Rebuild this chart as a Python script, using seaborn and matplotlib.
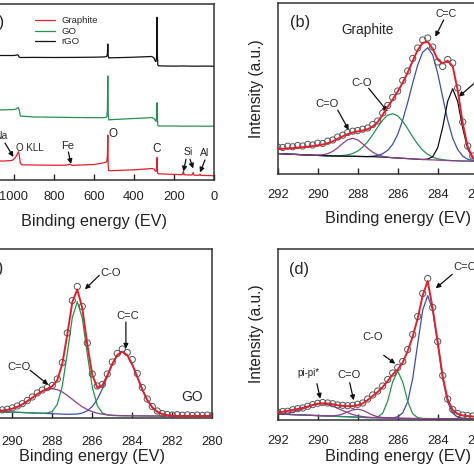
import numpy as np
import matplotlib
matplotlib.use("Agg")
import matplotlib.pyplot as plt
import seaborn as sns

# ---- survey spectra (panel a), intensity in arbitrary offset units ----
rgo_be = [1200, 1100, 1075, 1000, 990, 982, 978, 974, 968,
          900, 800, 700, 600, 560, 545, 536, 533, 531, 529, 526, 520,
          450, 400, 340, 311, 300, 295, 290, 286, 284.5, 283, 281, 278,
          250, 200, 150, 100, 50, 0]
rgo_int = [124.0, 124.3, 124.5, 124.5, 124.8, 125.2, 124.5, 123.0, 122.5,
           122.6, 122.5, 122.6, 122.8, 123.0, 123.2, 123.6, 126.0, 136.0, 124.0, 122.0, 122.2,
           122.5, 122.8, 123.3, 123.5, 122.0, 119.5, 118.5, 125.0, 162.7, 125.0, 115.0, 114.2,
           114.0, 113.9, 114.0, 113.8, 113.9, 113.8]
go_int = [70.0, 70.2, 70.0, 70.5, 71.0, 72.0, 72.3, 70.0, 64.0,
          63.0, 62.8, 62.5, 62.3, 62.3, 62.5, 63.0, 70.0, 104.0, 66.0, 60.0, 60.3,
          61.0, 61.5, 62.0, 62.5, 61.5, 60.0, 58.5, 65.0, 77.3, 62.0, 55.0, 54.0,
          54.0, 54.0, 53.8, 53.9, 53.8, 53.8]
gr_be = [1200, 1100, 1050, 1010, 1000, 990, 982, 978, 974, 968,
         960, 900, 800, 740, 722, 712, 700, 600, 570, 545,
         536, 533, 531, 529, 527, 520, 450, 400, 340, 311,
         300, 295, 290, 286, 284.5, 283, 281, 278, 250, 200,
         160, 153, 150, 110, 104, 100, 75, 70, 66, 0]
gr_int = [19.0, 19.0, 19.0, 19.5, 21.0, 23.5, 26.5, 28.3, 25.0, 16.5,
          15.2, 15.0, 14.8, 14.8, 15.8, 14.8, 14.7, 15.5, 16.5, 17.5,
          18.5, 24.0, 45.0, 15.0, 9.5, 9.3, 9.8, 10.2, 11.0, 11.5,
          11.0, 9.5, 8.5, 11.0, 22.5, 10.0, 6.5, 6.2, 6.0, 5.6,
          5.3, 8.5, 5.2, 5.0, 7.5, 4.8, 4.7, 5.8, 4.6, 4.3]

# ---- C1s high resolution, energy grid shared by panels b, c, d ----
be_hr = [292.0, 291.75, 291.5, 291.25, 291.0, 290.75, 290.5, 290.25,
         290.0, 289.75, 289.5, 289.25, 289.0, 288.75, 288.5, 288.25,
         288.0, 287.75, 287.5, 287.25, 287.0, 286.75, 286.5, 286.25,
         286.0, 285.75, 285.5, 285.25, 285.0, 284.75, 284.5, 284.25,
         284.0, 283.75, 283.5, 283.25, 283.0, 282.75, 282.5, 282.25,
         282.0, 281.75, 281.5, 281.25, 281.0, 280.75, 280.5, 280.25, 280.0]

# panel b: graphite
b_base = [20.5, 20.2, 20.0, 19.7, 19.5, 19.2, 19.0, 18.8,
          18.6, 18.4, 18.2, 18.1, 18.0, 17.9, 17.8, 17.7,
          17.6, 17.5, 17.4, 17.3, 17.1, 16.9, 16.6, 16.3,
          16.0, 15.7, 15.4, 15.1, 14.8, 14.5, 14.3, 14.1,
          13.9, 13.7, 13.5, 13.3, 13.2, 13.0, 12.9, 12.8,
          12.7, 12.6, 12.5, 12.4, 12.4, 12.3, 12.3, 12.2, 12.2]
b_co = [0, 0, 0, 0, 0, 0, 0, 0,
        0.3, 0.8, 2.1, 4.5, 8.2, 12.7, 16.5, 18.0,
        16.5, 12.7, 8.2, 4.5, 2.1, 0.8, 0.3, 0,
        0, 0, 0, 0, 0, 0, 0, 0,
        0, 0, 0, 0, 0, 0, 0, 0,
        0, 0, 0, 0, 0, 0, 0, 0, 0]
b_c_o = [0, 0, 0, 0, 0, 0, 0, 0,
         0, 0, 0, 0, 0.2, 0.6, 1.3, 2.8,
         5.3, 9.3, 15.0, 22.0, 29.8, 37.0, 42.2, 44.0,
         42.2, 37.0, 29.8, 22.0, 15.0, 9.3, 5.3, 2.8,
         1.3, 0.6, 0.2, 0, 0, 0, 0, 0,
         0, 0, 0, 0, 0, 0, 0, 0, 0]
b_cc = [0, 0, 0, 0, 0, 0, 0, 0,
        0, 0, 0, 0, 0, 0, 0, 0,
        0, 0, 0, 0.6, 1.5, 3.4, 7.1, 13.4,
        23.6, 38.2, 56.1, 75.9, 94.2, 107.3, 112.0, 105.0,
        86.8, 63.2, 40.3, 22.4, 11.3, 4.9, 1.9, 0.7,
        0.2, 0, 0, 0, 0, 0, 0, 0, 0]
b_cx = [0, 0, 0, 0, 0, 0, 0, 0,
        0, 0, 0, 0, 0, 0, 0, 0,
        0, 0, 0, 0, 0, 0, 0, 0,
        0, 0, 0, 0, 0, 0, 0.6, 3.2,
        12.4, 33.0, 59.3, 72.0, 59.3, 33.0, 12.4, 3.2,
        0.6, 0, 0, 0, 0, 0, 0, 0, 0]
b_fit = [25.0, 25.2, 25.6, 25.9, 26.4, 26.8, 27.4, 27.9,
         28.7, 29.4, 30.7, 32.6, 35.2, 37.7, 39.8, 41.5,
         42.6, 43.4, 44.8, 47.5, 52.0, 59.3, 67.2, 74.5,
         82.4, 91.3, 101.5, 113.0, 124.0, 131.1, 132.2, 125.1,
         114.4, 110.5, 113.3, 107.7, 83.8, 50.9, 27.2, 16.7,
         13.5, 12.6, 12.5, 12.4, 12.4, 12.3, 12.3, 12.2, 12.2]
b_pts = [27.0, 26.5, 27.8, 27.2, 28.5, 28.0, 29.6, 29.0,
         30.8, 30.5, 32.8, 34.0, 37.0, 38.8, 41.5, 42.8,
         43.5, 44.8, 46.0, 49.5, 53.0, 61.0, 68.5, 76.5,
         83.0, 93.5, 103.0, 115.5, 126.0, 134.0, 136.0, 127.0,
         112.0, 107.5, 114.5, 111.0, 86.0, 52.0, 28.0, 18.0,
         14.5, 13.5, 13.0, 13.2, 12.8, 12.9, 12.6, 12.8, 12.5]

# panel c: GO
c_base = [7.0, 6.8, 6.6, 6.4, 6.2, 6.0, 5.8, 5.6,
          5.4, 5.2, 5.0, 4.8, 4.6, 4.4, 4.2, 4.0,
          3.8, 3.6, 3.4, 3.2, 3.0, 2.8, 2.6, 2.5,
          2.4, 2.3, 2.2, 2.1, 2.0, 1.9, 1.8, 1.75,
          1.7, 1.65, 1.6, 1.55, 1.5, 1.5, 1.5, 1.5,
          1.5, 1.5, 1.5, 1.5, 1.5, 1.5, 1.5, 1.5, 1.5]
c_co = [0, 0, 0, 0.1, 0.3, 0.6, 1.1, 2.0,
        3.4, 5.4, 8.1, 11.5, 15.2, 18.9, 22.1, 24.2,
        25.0, 24.2, 22.1, 18.9, 15.2, 11.5, 8.1, 5.4,
        3.4, 2.0, 1.1, 0.6, 0.3, 0.1, 0, 0,
        0, 0, 0, 0, 0, 0, 0, 0,
        0, 0, 0, 0, 0, 0, 0, 0, 0]
c_c_o = [0, 0, 0, 0, 0, 0, 0, 0,
         0, 0, 0, 0, 0, 0, 0, 0.5,
         2.4, 9.6, 28.1, 60.9, 96.8, 113.0, 96.8, 60.9,
         28.1, 9.6, 2.4, 0.5, 0, 0, 0, 0,
         0, 0, 0, 0, 0, 0, 0, 0,
         0, 0, 0, 0, 0, 0, 0, 0, 0]
c_cc = [0, 0, 0, 0, 0, 0, 0, 0,
        0, 0, 0, 0, 0, 0, 0, 0,
        0, 0, 0, 0, 0.3, 0.7, 1.9, 4.2,
        8.6, 15.9, 26.3, 38.8, 51.3, 60.5, 64.0, 60.5,
        51.3, 38.8, 26.3, 15.9, 8.6, 4.2, 1.9, 0.7,
        0.3, 0, 0, 0, 0, 0, 0, 0, 0]
c_fit = [7.0, 6.8, 6.6, 6.5, 6.5, 6.6, 6.9, 7.6,
         8.8, 10.6, 13.1, 16.3, 19.8, 23.3, 26.3, 28.7,
         31.2, 37.4, 53.6, 83.0, 115.3, 128.0, 109.4, 73.0,
         42.5, 29.8, 32.0, 42.0, 53.6, 62.5, 65.8, 62.3,
         53.0, 40.5, 27.9, 17.5, 10.1, 5.7, 3.4, 2.2,
         1.8, 1.5, 1.5, 1.5, 1.5, 1.5, 1.5, 1.5, 1.5]
c_pts = [7.5, 7.0, 6.2, 7.0, 6.8, 7.2, 7.6, 8.2,
         9.6, 11.5, 13.8, 17.0, 20.5, 24.5, 27.5, 30.0,
         32.0, 38.5, 55.0, 84.5, 117.0, 131.0, 111.0, 74.5,
         43.5, 31.5, 33.0, 43.5, 55.5, 64.0, 68.5, 65.0,
         58.0, 44.0, 30.0, 18.5, 11.0, 6.5, 4.0, 3.0,
         2.5, 2.8, 2.2, 2.6, 2.0, 2.5, 2.1, 2.4, 2.0]

# panel d: rGO
d_base = [5.5, 5.3, 5.1, 4.9, 4.7, 4.5, 4.3, 4.1,
          3.9, 3.7, 3.5, 3.3, 3.1, 2.9, 2.7, 2.5,
          2.3, 2.1, 1.9, 1.8, 1.7, 1.6, 1.5, 1.4,
          1.3, 1.2, 1.1, 1.0, 1.0, 0.9, 0.9, 0.9,
          0.9, 0.9, 0.9, 0.9, 0.9, 0.9, 0.9, 0.9,
          0.9, 0.9, 0.9, 0.9, 0.9, 0.9, 0.9, 0.9, 0.9]
d_pp = [0.4, 0.8, 1.4, 2.5, 4.1, 6.0, 8.1, 10.1,
        11.5, 12.0, 11.5, 10.1, 8.1, 6.0, 4.1, 2.5,
        1.4, 0.8, 0.4, 0.2, 0, 0, 0, 0,
        0, 0, 0, 0, 0, 0, 0, 0,
        0, 0, 0, 0, 0, 0, 0, 0,
        0, 0, 0, 0, 0, 0, 0, 0, 0]
d_co = [0, 0, 0, 0, 0, 0, 0, 0,
        0, 0, 0.1, 0.4, 1.1, 2.6, 4.9, 7.1,
        8.0, 7.1, 4.9, 2.6, 1.1, 0.4, 0.1, 0,
        0, 0, 0, 0, 0, 0, 0, 0,
        0, 0, 0, 0, 0, 0, 0, 0,
        0, 0, 0, 0, 0, 0, 0, 0, 0]
d_c_o = [0, 0, 0, 0, 0, 0, 0, 0,
         0, 0, 0, 0, 0, 0, 0, 0,
         0, 0, 0, 0.1, 0.8, 4.7, 17.0, 36.4,
         47.0, 36.4, 17.0, 4.7, 0.8, 0.1, 0, 0,
         0, 0, 0, 0, 0, 0, 0, 0,
         0, 0, 0, 0, 0, 0, 0, 0, 0]
d_cc = [0, 0, 0, 0, 0, 0, 0, 0,
        0, 0, 0, 0, 0, 0, 0, 0,
        0, 0, 0, 0, 0, 0, 0, 0.2,
        1.4, 5.4, 16.6, 40.0, 74.7, 108.5, 123.0, 108.5,
        74.7, 40.0, 16.6, 5.4, 1.4, 0.2, 0, 0,
        0, 0, 0, 0, 0, 0, 0, 0, 0]
d_fit = [7.0, 7.8, 8.6, 9.5, 10.5, 11.6, 12.8, 14.6,
         15.8, 16.2, 16.0, 15.2, 14.2, 13.6, 13.3, 13.5,
         14.3, 16.0, 19.5, 23.5, 27.5, 32.5, 38.5, 45.0,
         50.0, 57.0, 68.5, 83.0, 101.0, 124.0, 138.5, 111.0,
         77.5, 43.0, 20.0, 9.5, 5.5, 4.0, 3.4, 3.0,
         2.7, 2.5, 2.4, 2.3, 2.2, 2.2, 2.1, 2.1, 2.0]
d_pts = [7.5, 8.0, 8.2, 9.8, 10.8, 11.5, 13.2, 14.9,
         16.2, 17.0, 16.5, 15.8, 14.6, 14.2, 13.8, 14.2,
         15.2, 16.5, 20.5, 24.5, 28.5, 33.5, 40.0, 46.5,
         52.0, 58.0, 70.0, 85.0, 103.0, 126.0, 141.0, 112.0,
         78.0, 44.0, 20.5, 10.0, 6.0, 4.5, 4.0, 3.5,
         3.2, 3.0, 2.8, 3.1, 2.6, 2.9, 2.5, 2.8, 2.4]

RED = '#e0202c'
GREEN = '#279150'
BLUE = '#3b4fa6'
PURPLE = '#8c3f8c'
BLACK = '#111111'

sns.set_theme(style="white")
plt.rcParams['font.family'] = ['Liberation Sans', 'DejaVu Sans']

W = 474.0
fig = plt.figure(figsize=(4.74, 4.74), dpi=100)


def px_axes(left, top, right, bottom):
    # axes placed by pixel edges, y measured from the top of the picture
    return fig.add_axes([left / W, (W - bottom) / W, (right - left) / W, (bottom - top) / W])


def style(ax, ylim, label_y, pad):
    for s in ax.spines.values():
        s.set_color('#333333')
        s.set_linewidth(1.1)
    ax.set_ylim(*ylim)
    ax.set_yticks([])
    ax.tick_params(axis='x', direction='in', length=4, width=1, labelsize=9.3,
                   pad=pad, colors='#222222', bottom=True)
    ax.set_xlabel('Binding energy (EV)', fontsize=11.7, color='#222222')
    ax.xaxis.set_label_coords(0.5, label_y)
    ax.set_ylabel('Intensity (a.u.)', fontsize=11.2, color='#222222')
    ax.yaxis.set_label_coords(-0.057, 0.5)


def arrow(ax, xy_from, xy_to):
    ax.annotate('', xy=xy_to, xytext=xy_from,
                arrowprops=dict(arrowstyle='-|>', color='#111111', lw=0.9,
                                mutation_scale=7, shrinkA=0, shrinkB=0))


def draw_fit(ax, base, comps, fit, pts):
    base = np.array(base)
    for h, col in comps:
        sns.lineplot(x=be_hr, y=base + np.array(h), ax=ax, color=col, lw=0.9,
                     sort=False, estimator=None)
    sns.scatterplot(x=be_hr, y=pts, ax=ax, marker='o', s=20, facecolor='none',
                    edgecolor='#555555', linewidth=0.7, zorder=3)
    sns.lineplot(x=be_hr, y=fit, ax=ax, color=RED, lw=1.4, sort=False,
                 estimator=None, zorder=4)
    ax.set_xlim(292, 280)
    ax.set_xticks([292, 290, 288, 286, 284, 282, 280])


# ---------------- (a) survey ----------------
ax_a = px_axes(-26, 4, 214, 180)
sns.lineplot(x=rgo_be, y=rgo_int, ax=ax_a, color=BLACK, lw=0.9, sort=False, estimator=None)
sns.lineplot(x=rgo_be, y=go_int, ax=ax_a, color=GREEN, lw=0.9, sort=False, estimator=None)
sns.lineplot(x=gr_be, y=gr_int, ax=ax_a, color=RED, lw=0.9, sort=False, estimator=None)
ax_a.set_xlim(1200, 0)
ax_a.set_xticks([1200, 1000, 800, 600, 400, 200, 0])
style(ax_a, (0, 176), -0.193, 8.0)
lines = ax_a.get_lines()
ax_a.legend([lines[2], lines[1], lines[0]], ['Graphite', 'GO', 'rGO'],
            loc='upper left', bbox_to_anchor=(0.245, 0.94), frameon=False,
            fontsize=6.8, handlelength=2.2, handletextpad=0.6, labelspacing=0.15,
            borderpad=0.2, borderaxespad=0)
ax_a.text(1050, 158, '(a)', fontsize=11.8, ha='right', va='center')
ax_a.text(1035, 44, 'Na', fontsize=7.5, ha='right', va='center')
ax_a.text(922, 32, 'O KLL', fontsize=7, ha='center', va='center')
ax_a.text(733, 34, 'Fe', fontsize=8, ha='center', va='center')
ax_a.text(505, 46, 'O', fontsize=8.5, ha='center', va='center')
ax_a.text(285, 31, 'C', fontsize=8.5, ha='center', va='center')
ax_a.text(130, 28, 'Si', fontsize=7.5, ha='center', va='center')
ax_a.text(45, 27, 'Al', fontsize=7.5, ha='center', va='center')
arrow(ax_a, (1045, 37), (1003, 23))
arrow(ax_a, (728, 28), (715, 16))
arrow(ax_a, (140, 20.7), (153, 8.5))
arrow(ax_a, (120, 20.7), (104, 11.5))
arrow(ax_a, (45, 20), (70, 7.5))

# ---------------- (b) graphite C1s ----------------
ax_b = px_axes(277.7, 3, 517.7, 174)
draw_fit(ax_b, b_base, [(b_cc, BLUE), (b_c_o, GREEN), (b_cx, BLACK), (b_co, PURPLE)], b_fit, b_pts)
style(ax_b, (0, 171), -0.216, 11)
ax_b.text(290.89, 152, '(b)', fontsize=11.8, ha='center', va='center')
ax_b.text(287.49, 144, 'Graphite', fontsize=9.8, ha='center', va='center')
ax_b.text(283.56, 159.8, 'C=C', fontsize=7.6, ha='center', va='center')
ax_b.text(287.79, 91.5, 'C-O', fontsize=8, ha='center', va='center')
ax_b.text(289.52, 69.8, 'C=O', fontsize=8, ha='center', va='center')
arrow(ax_b, (283.7, 154), (284.12, 137.3))
arrow(ax_b, (287.45, 85.7), (286.5, 62.3))
arrow(ax_b, (289.0, 64), (288.45, 44))
arrow(ax_b, (282.17, 90.7), (282.95, 77.3))

# ---------------- (c) GO C1s ----------------
ax_c = px_axes(-27.7, 248.7, 212.3, 417.5)
draw_fit(ax_c, c_base, [(c_cc, BLUE), (c_c_o, GREEN), (c_co, PURPLE)], c_fit, c_pts)
style(ax_c, (0, 168.8), -0.185, 13.5)
ax_c.text(290.47, 148.5, '(c)', fontsize=11.8, ha='right', va='center')
ax_c.text(285.08, 144.7, 'C-O', fontsize=8, ha='center', va='center')
ax_c.text(284.24, 101.2, 'C=C', fontsize=8, ha='center', va='center')
ax_c.text(289.66, 51, 'C=O', fontsize=8, ha='center', va='center')
ax_c.text(280.99, 20.5, 'GO', fontsize=10, ha='center', va='center')
arrow(ax_c, (285.65, 142.2), (286.37, 128.2))
arrow(ax_c, (284.32, 95.5), (284.32, 68.8))
arrow(ax_c, (289.11, 47.2), (288.2, 32.8))

# ---------------- (d) rGO C1s ----------------
ax_d = px_axes(277.7, 248.7, 517.7, 419.5)
draw_fit(ax_d, d_base, [(d_cc, BLUE), (d_c_o, GREEN), (d_co, PURPLE), (d_pp, PURPLE)], d_fit, d_pts)
style(ax_d, (0, 170.8), -0.172, 11.5)
ax_d.text(290.92, 150.2, '(d)', fontsize=11.8, ha='center', va='center')
ax_d.text(283.2, 152, 'C=C', fontsize=8, ha='left', va='center')
ax_d.text(287.23, 82, 'C-O', fontsize=8, ha='center', va='center')
ax_d.text(288.46, 45, 'C=O', fontsize=8, ha='center', va='center')
ax_d.text(290.47, 47, 'pi-pi*', fontsize=7, ha='center', va='center')
arrow(ax_d, (283.27, 145.2), (284.1, 131.2))
arrow(ax_d, (286.7, 64.2), (286.12, 55.8))
arrow(ax_d, (288.4, 36.8), (288.2, 19.2))
arrow(ax_d, (290.04, 35.8), (289.87, 20.8))

fig.savefig('out.png', dpi=100)
